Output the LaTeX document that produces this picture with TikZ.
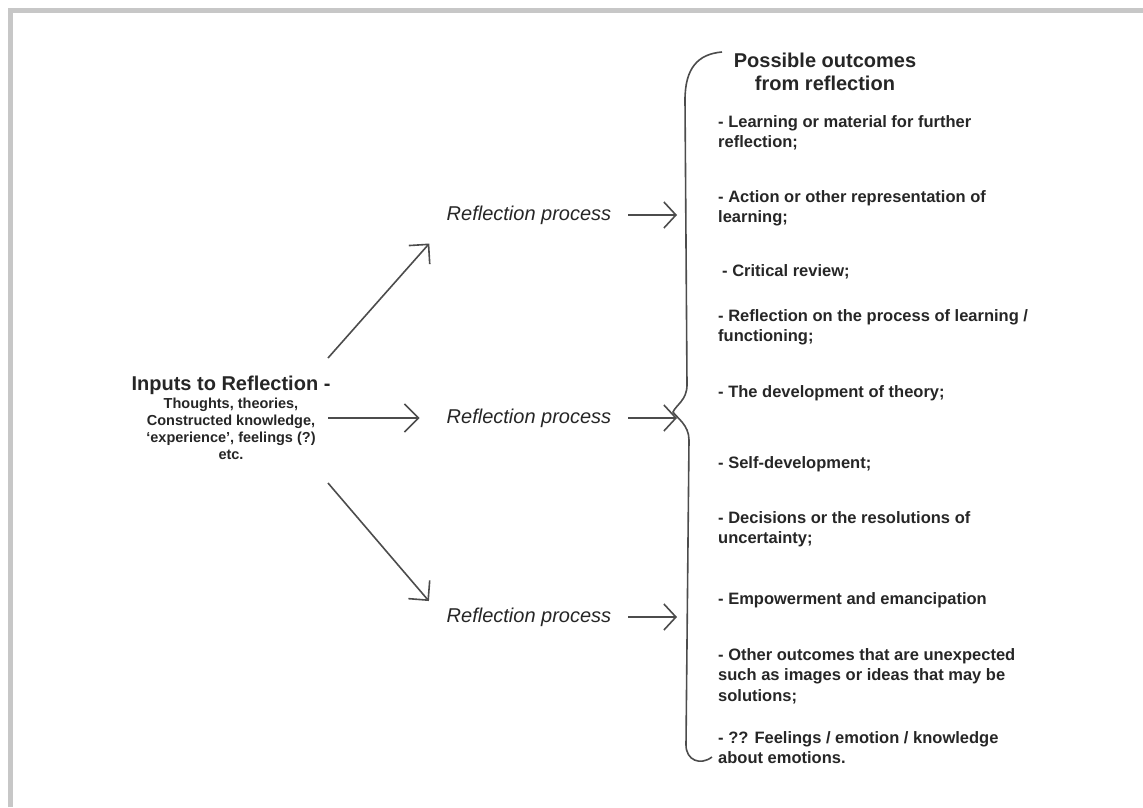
\documentclass[tikz,border=0pt]{standalone}
\usepackage{fontspec}
\setmainfont{Liberation Sans}
\usepackage{xcolor}
\usepackage{tikz}
\usetikzlibrary{arrows.meta,positioning,calc}

\begin{document}
\begin{tikzpicture}[x=1pt, y=-1pt,
    arr/.style={-{Straight Barb[length=14pt, width=28pt]}, line width=1.6pt, draw=black!70},
    sarr/.style={-{Straight Barb[length=12pt, width=26pt]}, line width=1.6pt, draw=black!70},
    refl/.style={inner sep=4pt, font=\fontsize{20}{24}\selectfont\itshape, text=black!85},
    outc/.style={anchor=base west, inner sep=0pt, align=left, font=\fontsize{16.5}{20.5}\selectfont\bfseries, text=black!85}]

    \useasboundingbox (0,0) rectangle (1143,807);
    \draw[black!22, line width=5pt] (10,807) -- (10,10) -- (1143,10);

    \node[align=center, text=black!85, font=\fontsize{14.5}{17}\selectfont\bfseries] (inputs) at (231,418)
        {{\fontsize{20}{23}\selectfont Inputs to Reflection -}\\[1pt]
         Thoughts, theories,\\ Constructed knowledge,\\ `experience', feelings (?)\\ etc.};

    \node[refl] (r1) at (529,215) {Reflection process};
    \node[refl] (r2) at (529,418) {Reflection process};
    \node[refl] (r3) at (529,617) {Reflection process};

    \node[align=center, inner sep=0pt, text=black!85, font=\fontsize{20}{23}\selectfont\bfseries] (title) at (825,72)
        {Possible outcomes\\ from reflection};

    \node[outc] (o1) at (718,147.5) {- Learning or material for further\\ reflection;};
    \node[outc] (o2) at (718,222.5) {- Action or other representation of\\ learning;};
    \node[outc] (o3) at (722,276) {- Critical review;};
    \node[outc] (o4) at (718,341.5) {- Reflection on the process of learning /\\ functioning;};
    \node[outc] (o5) at (718,397) {- The development of theory;};
    \node[outc] (o6) at (718,468) {- Self-development;};
    \node[outc] (o7) at (718,543.5) {- Decisions or the resolutions of\\ uncertainty;};
    \node[outc] (o8) at (718,604) {- Empowerment and emancipation};
    \node[outc] (o9) at (718,701) {- Other outcomes that are unexpected\\ such as images or ideas that may be\\ solutions;};
    \node[outc] (o10) at (718,763.5) {- ?? Feelings / emotion / knowledge\\ about emotions.};

    \draw[black!70, line width=1.6pt] (722,52) .. controls (698,54) and (685,68) .. (685,100)
        -- (687,385) .. controls (687,400) and (676,405) .. (673,412)
        .. controls (677,418) and (689,425) .. (689,440)
        -- (686,745) .. controls (686,760) and (700,766) .. (712,757);

    \coordinate (brace) at (677,418);
    \coordinate (in1) at (328,358);
    \coordinate (in2) at (328,418);
    \coordinate (in3) at (328,483);

    \draw[arr, shorten >=20pt] (in1) -- (r1.south west);
    \draw[arr, shorten >=23pt] (in2) -- (r2.west);
    \draw[arr, shorten >=21pt] (in3) -- (r3.west);

    \draw[sarr, shorten <=13pt] (r1.east) -- (r1.east -| brace);
    \draw[sarr, shorten <=13pt] (r2.east) -- (r2.east -| brace);
    \draw[sarr, shorten <=13pt] (r3.east) -- (r3.east -| brace);

\end{tikzpicture}
\end{document}
